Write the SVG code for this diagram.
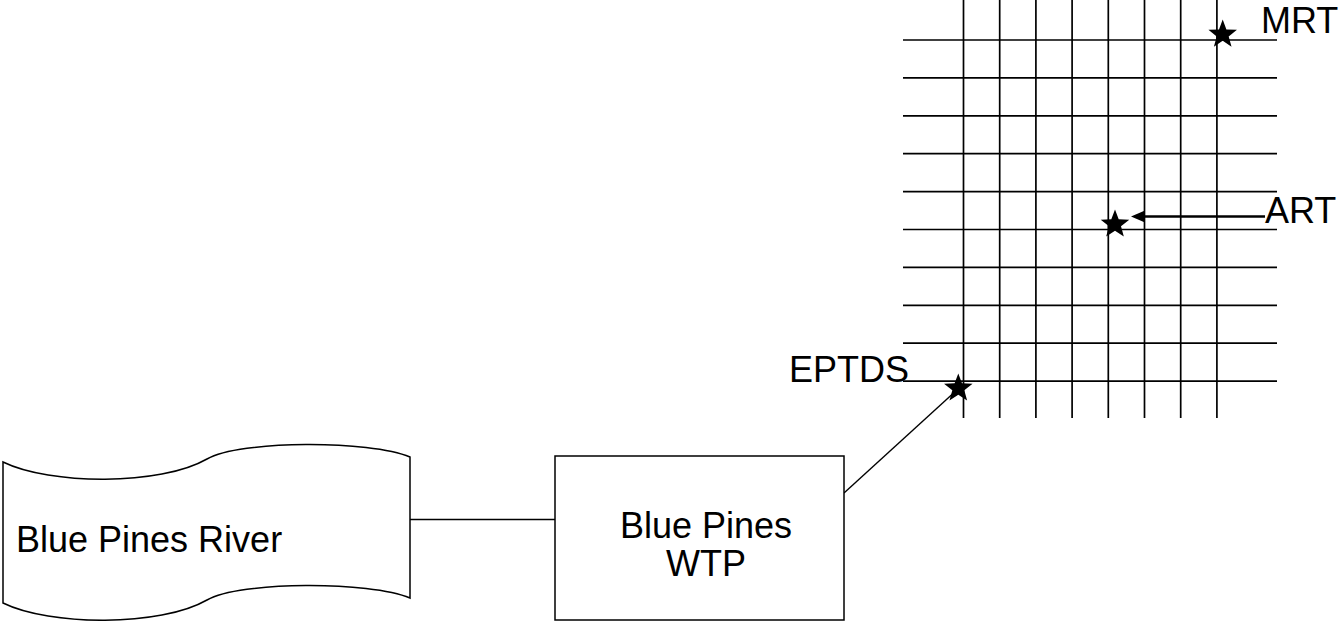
<svg xmlns="http://www.w3.org/2000/svg" width="1340" height="621" viewBox="0 0 1340 621">
  <style>
    .bg { fill: #ffffff; }
    .grid line { stroke: #000; stroke-width: 1.7; }
    .shape { fill: #ffffff; stroke: #000; stroke-width: 1.5; }
    .conn { stroke: #000; stroke-width: 1.4; fill: none; }
    .thick { stroke: #000; stroke-width: 2.5; fill: none; }
    .lbl { font-family: "Liberation Sans", Arial, sans-serif; font-size: 36px; fill: #000; }
    .star { fill: #000; }
  </style>
  <defs>
    <path id="star" d="M0,-15 L3.7,-5.1 L14.27,-4.64 L5.99,1.95 L8.82,12.14 L0,6.3 L-8.82,12.14 L-5.99,1.95 L-14.27,-4.64 L-3.7,-5.1 Z"/>
    <marker id="arrow" markerUnits="userSpaceOnUse" markerWidth="16" markerHeight="14" refX="0" refY="6" orient="auto">
      <path d="M0,0 L14,6 L0,12 Z" fill="#000"/>
    </marker>
  </defs>
  <rect class="bg" x="0" y="0" width="1340" height="621"/>

  <g id="grid" class="grid">
    <line x1="963.5" y1="0" x2="963.5" y2="418"/>
    <line x1="999.7" y1="0" x2="999.7" y2="418"/>
    <line x1="1035.9" y1="0" x2="1035.9" y2="418"/>
    <line x1="1072.1" y1="0" x2="1072.1" y2="418"/>
    <line x1="1108.3" y1="0" x2="1108.3" y2="418"/>
    <line x1="1144.5" y1="0" x2="1144.5" y2="418"/>
    <line x1="1180.7" y1="0" x2="1180.7" y2="418"/>
    <line x1="1216.9" y1="0" x2="1216.9" y2="418"/>
    <line x1="903" y1="40" x2="1277" y2="40"/>
    <line x1="903" y1="77.9" x2="1277" y2="77.9"/>
    <line x1="903" y1="115.8" x2="1277" y2="115.8"/>
    <line x1="903" y1="153.7" x2="1277" y2="153.7"/>
    <line x1="903" y1="191.6" x2="1277" y2="191.6"/>
    <line x1="903" y1="229.5" x2="1277" y2="229.5"/>
    <line x1="903" y1="267.4" x2="1277" y2="267.4"/>
    <line x1="903" y1="305.3" x2="1277" y2="305.3"/>
    <line x1="903" y1="343.2" x2="1277" y2="343.2"/>
    <line x1="903" y1="381.1" x2="1277" y2="381.1"/>
  </g>

  <g id="connectors">
    <line class="conn" x1="410" y1="519.5" x2="555" y2="519.5"/>
    <line class="conn" x1="844" y1="493" x2="958" y2="389"/>
    <line class="thick" x1="1265" y1="216.5" x2="1145" y2="216.5" marker-end="url(#arrow)"/>
  </g>

  <g id="river">
    <path class="shape" d="M3,462 C50,485 160,486 207,459 C240,440 370,440 410,457 L410,598 C370,581 240,581 207,600 C160,627 50,626 3,603 Z"/>
    <text class="lbl" x="16" y="552">Blue Pines River</text>
  </g>

  <g id="wtp">
    <rect class="shape" x="555" y="456" width="289" height="164"/>
    <text class="lbl" x="706" y="537.5" text-anchor="middle">Blue Pines</text>
    <text class="lbl" x="706" y="576" text-anchor="middle">WTP</text>
  </g>

  <g id="mrt">
    <use href="#star" class="star" transform="translate(1222.7,34.5)"/>
    <text class="lbl" x="1261" y="33">MRT</text>
  </g>

  <g id="art">
    <use href="#star" class="star" transform="translate(1115,224.4)"/>
    <text class="lbl" x="1265" y="223">ART</text>
  </g>

  <g id="eptds">
    <use href="#star" class="star" transform="translate(958.3,388.4)"/>
    <text class="lbl" x="789" y="382">EPTDS</text>
  </g>
</svg>
